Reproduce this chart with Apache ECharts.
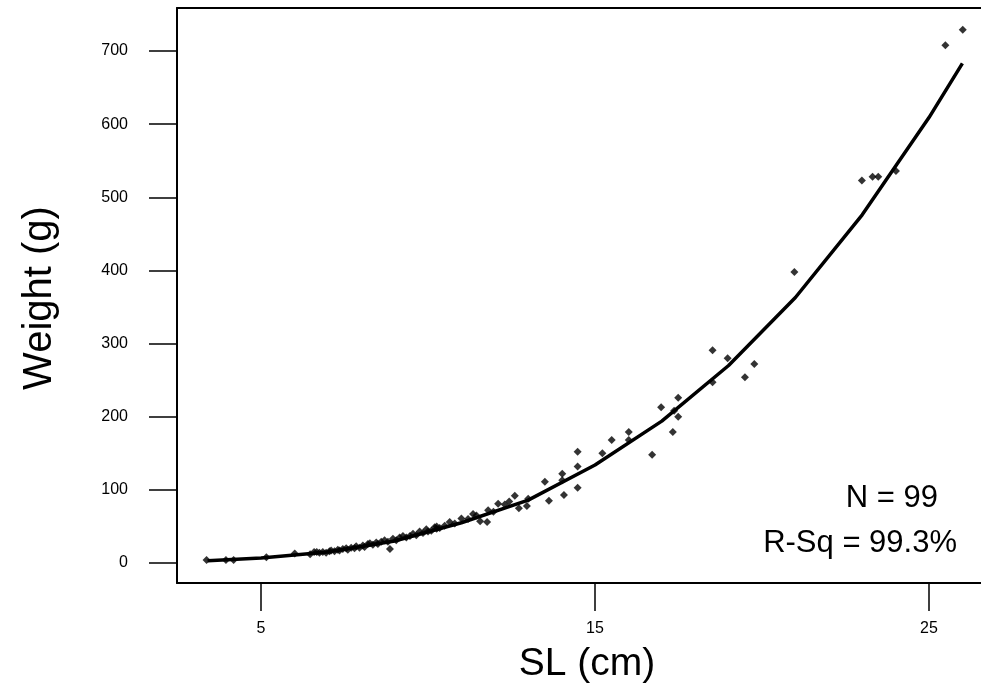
<!DOCTYPE html>
<html>
<head>
<meta charset="utf-8">
<script src="https://cdn.jsdelivr.net/npm/echarts@6/dist/echarts.min.js"></script>
<style>
html,body{margin:0;padding:0;background:#fff;}
#chart{width:981px;height:694px;}
</style>
</head>
<body>
<div id="chart"></div>
<script>
// Observed fish: standard length (cm) and weight (g)
const slX = [3.37,3.95,4.18,5.16,6.01,6.47,6.59,6.67,
  6.75,6.85,6.95,7.05,7.1,7.2,7.3,7.35,7.45,7.55,7.6,7.7,7.8,7.85,7.95,8.05,8.1,8.2,8.35,8.45,8.5,8.6,8.7,8.8,8.95,9.05,9.15,9.25,9.35,9.55,9.65,9.75,9.85,9.95,10.1,10.2,10.35,10.5,10.65,10.8,11.0,11.2,11.35,11.45,11.8,12.1,12.3,12.6,
  8.26,8.86,9.46,10.0,10.26,10.26,11.56,11.77,11.96,12.43,12.72,12.96,13.0,13.5,13.62,14.02,14.02,14.07,14.48,14.48,14.48,15.22,15.5,16.01,16.01,16.71,16.98,17.33,17.37,17.49,17.49,18.52,18.52,18.97,19.49,19.77,20.97,22.99,23.31,23.48,24.01,25.49,26.01];
const slW = [4,4,4,8,13,12,15,15,
  14,15,14,16,17,16,18,17,19,20,18,21,20,23,21,24,22,26,25,28,26,29,31,29,33,31,35,37,35,40,38,43,41,46,44,49,48,51,56,54,61,60,67,65,72,81,80,92,
  27,19,37,43,50,47,57,56,70,84,75,78,88,111,85,122,113,93,152,132,103,150,168,179,168,148,213,179,208,226,200,291,247,280,254,272,398,523,528,528,536,708,729];
// Fitted curve
const fitX = [3.4,5,7,9,11,13,15,17,19,21,23,25,26];
const fitW = [3,7,15,30,55,86,134,194,270,363,476,609,683];
// Tick labels
const xTicks = [5,15,25];
const yTicks = [0,100,200,300,400,500,600,700];
const statN = 'N = 99';
const statR = 'R-Sq = 99.3%';

const pts = slX.map((x,i)=>[x,slW[i]]);
const fit = fitX.map((x,i)=>[x,fitW[i]]);
const FONT = '"Liberation Sans", Arial, sans-serif';
const X_MIN = 2.485, X_MAX = 26.557;

const chart = echarts.init(document.getElementById('chart'), null, {renderer:'canvas'});
chart.setOption({
  animation:false,
  backgroundColor:'#fff',
  grid:{left:177, right:0, top:8, bottom:111, show:false, containLabel:false},
  xAxis:[{type:'value', min:X_MIN, max:X_MAX, position:'bottom',
    splitLine:{show:false},
    axisLine:{show:true, onZero:false, lineStyle:{color:'#000', width:2}},
    axisTick:{show:true, inside:false, length:28, customValues:xTicks, lineStyle:{color:'#000', width:1.5}},
    axisLabel:{show:true, customValues:xTicks, margin:38, color:'#000', fontSize:16, fontFamily:FONT}
  },{type:'value', min:X_MIN, max:X_MAX, position:'top',
    splitLine:{show:false},
    axisLine:{show:true, onZero:false, lineStyle:{color:'#000', width:2}},
    axisTick:{show:false}, axisLabel:{show:false}
  }],
  yAxis:{type:'value', min:-27.34, max:758.8,
    splitLine:{show:false},
    axisLine:{show:true, onZero:false, lineStyle:{color:'#000', width:2}},
    axisTick:{show:true, inside:false, length:28, customValues:yTicks, lineStyle:{color:'#000', width:1.5}},
    axisLabel:{show:true, customValues:yTicks, margin:49, color:'#000', fontSize:16, fontFamily:FONT}
  },
  series:[
    {type:'line', data:fit, showSymbol:false, smooth:false, lineStyle:{color:'#000', width:3.5}, z:2},
    {type:'scatter', data:pts, symbol:'diamond', symbolSize:8, itemStyle:{color:'#000'}, z:3}
  ],
  graphic:[
    {type:'text', x:587, y:664, style:{text:'SL (cm)', font:'39px '+FONT, fill:'#000', textAlign:'center', textVerticalAlign:'middle'}},
    {type:'text', x:40, y:298, rotation:Math.PI/2, style:{text:'Weight (g)', font:'40px '+FONT, fill:'#000', textAlign:'center', textVerticalAlign:'middle'}},
    {type:'text', x:938, y:498, style:{text:statN, font:'31px '+FONT, fill:'#000', textAlign:'right', textVerticalAlign:'middle'}},
    {type:'text', x:957, y:543, style:{text:statR, font:'31px '+FONT, fill:'#000', textAlign:'right', textVerticalAlign:'middle'}}
  ]
});
</script>
</body>
</html>
